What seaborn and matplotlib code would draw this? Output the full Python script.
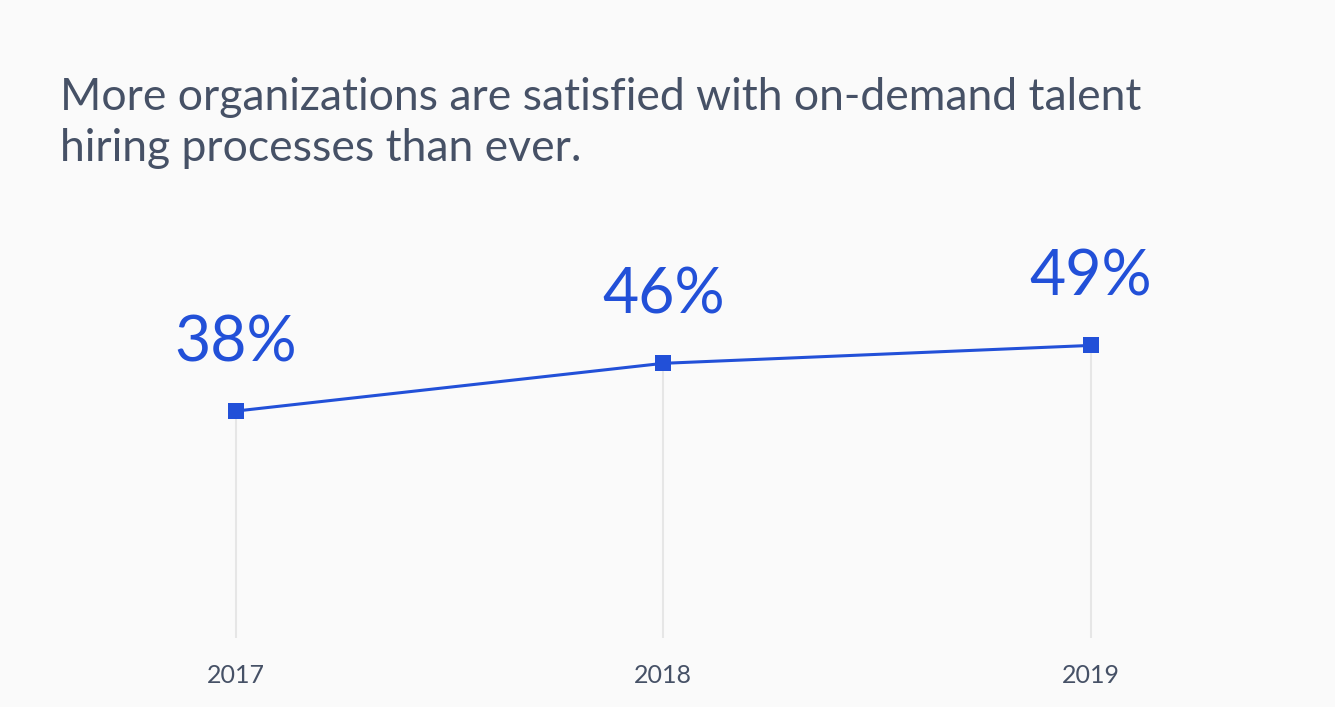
import numpy as np
import pandas as pd
import seaborn as sns
import matplotlib.pyplot as plt

years = [2017, 2018, 2019]
satisfied = [38, 46, 49]
tick_labels = ["2017", "2018", "2019"]
title = "More organizations are satisfied with on-demand talent\nhiring processes than ever."

blue = "#2250d8"
slate = "#465166"
bg = "#fafafa"

sns.set_theme(style="white")
plt.rcParams['font.family'] = ['Lato', 'DejaVu Sans']

df = pd.DataFrame({"year": years, "pct": satisfied})

fig = plt.figure(figsize=(13.35, 7.07), dpi=100, facecolor=bg)
ax = fig.add_axes([0.0449, 0.0976, 0.910, 0.5912])
ax.set_facecolor(bg)

# stems from the baseline up to each point
ax.vlines(df["year"], 0, df["pct"], color="#e6e6e6", linewidth=1.5, zorder=1)

sns.lineplot(data=df, x="year", y="pct", ax=ax, color=blue, linewidth=2.2,
             marker="s", markersize=12, markeredgewidth=0, zorder=3)

for x, y in zip(years, satisfied):
    ax.annotate(f"{y}%", (x, y), xytext=(0, 36), textcoords="offset points",
                ha="center", va="baseline", fontsize=45, color=blue)

ax.set_xlim(2016.589, 2019.43)
ax.set_ylim(0, 70)
ax.set_xticks(years)
ax.set_xticklabels(tick_labels, fontsize=18, color=slate)
ax.tick_params(axis="x", length=0, pad=19)
ax.set_yticks([])
ax.set_xlabel("")
ax.set_ylabel("")
for s in ax.spines.values():
    s.set_visible(False)

fig.text(0.0449, 1 - 161 / 707, title, fontsize=32, color=slate,
         ha="left", va="baseline", linespacing=1.3)

plt.savefig("out.png", dpi=100, facecolor=bg)
